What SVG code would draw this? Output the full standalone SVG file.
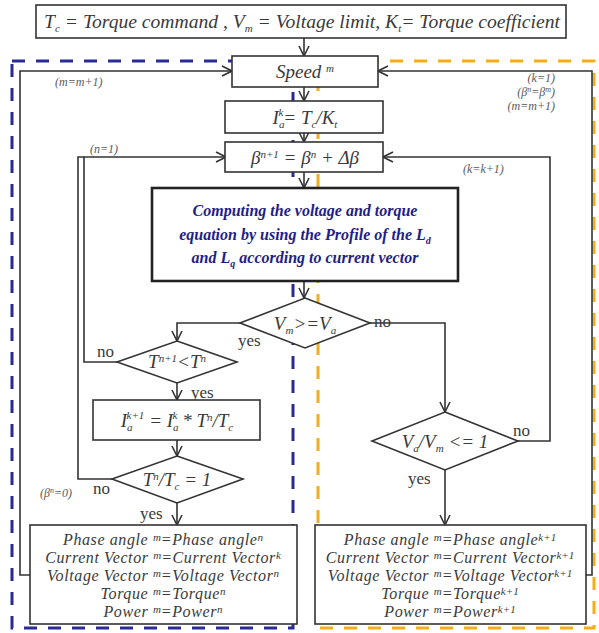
<svg xmlns="http://www.w3.org/2000/svg" width="599" height="633" viewBox="0 0 599 633">
<style>
.bx{fill:#fff;stroke:#333;stroke-width:1.6}
.bxb{fill:#fff;stroke:#222;stroke-width:2.6}
.ln{fill:none;stroke:#333;stroke-width:1.6}
.t{font-family:"Liberation Serif","Times New Roman","DejaVu Serif",serif;font-style:italic;fill:#3a3a3a;text-anchor:middle}
.r{font-size:16px;letter-spacing:0.6px}
.n{font-family:"Liberation Serif","Times New Roman","DejaVu Serif",serif;fill:#3a3a3a;font-size:17px}
.lb{font-family:"Liberation Serif","Times New Roman","DejaVu Serif",serif;font-style:italic;fill:#5a5a5a;font-size:12px}
.bl{font-family:"Liberation Serif","Times New Roman","DejaVu Serif",serif;font-style:italic;font-weight:bold;fill:#1e1e86;font-size:16px;text-anchor:middle}
.s{font-size:11px;letter-spacing:0}
</style>
<defs>
<marker id="ah" viewBox="0 0 12 12" refX="11" refY="6" markerWidth="12" markerHeight="12" markerUnits="userSpaceOnUse" orient="auto">
<path d="M1,1 L11,6 L1,11" fill="none" stroke="#333" stroke-width="1.6"/>
</marker>
</defs>
<g id="regions">
<rect x="12" y="61" width="281" height="567" fill="none" stroke="#2a2a96" stroke-width="3" stroke-dasharray="13,11"/>
<rect x="318" y="61" width="276" height="567" fill="none" stroke="#f4ae1a" stroke-width="3" stroke-dasharray="13,11"/>
</g>
<g id="connectors">
<line class="ln" x1="304" y1="38" x2="304" y2="56" marker-end="url(#ah)"/>
<line class="ln" x1="304" y1="87" x2="304" y2="101" marker-end="url(#ah)"/>
<line class="ln" x1="304" y1="133" x2="304" y2="142" marker-end="url(#ah)"/>
<line class="ln" x1="304" y1="172" x2="304" y2="188" marker-end="url(#ah)"/>
<line class="ln" x1="304" y1="281" x2="304" y2="298" marker-end="url(#ah)"/>
<polyline class="ln" points="240,323 177,323 177,341" marker-end="url(#ah)"/>
<polyline class="ln" points="117,362 84,362 84,157 226,157" marker-end="url(#ah)"/>
<line class="ln" x1="177" y1="383" x2="177" y2="400" marker-end="url(#ah)"/>
<line class="ln" x1="177" y1="440" x2="177" y2="456" marker-end="url(#ah)"/>
<polyline class="ln" points="112,479 78,479 78,157 84,157"/>
<line class="ln" x1="177" y1="503" x2="177" y2="525" marker-end="url(#ah)"/>
<polyline class="ln" points="370,323 445,323 445,412" marker-end="url(#ah)"/>
<polyline class="ln" points="518,441 550,441 550,157 383,157" marker-end="url(#ah)"/>
<line class="ln" x1="445" y1="470" x2="445" y2="525" marker-end="url(#ah)"/>
<polyline class="ln" points="30,575 20,575 20,71 232,71" marker-end="url(#ah)"/>
<polyline class="ln" points="586,575 592,575 592,71 378,71" marker-end="url(#ah)"/>
<text class="lb" x="55" y="86">(m=m+1)</text>
<text class="lb" x="90" y="153">(n=1)</text>
<text class="lb" x="40" y="497">(β<tspan dy="-4" font-size="8">n</tspan><tspan dy="4">=0)</tspan></text>
<text class="lb" x="555" y="82" text-anchor="end">(k=1)</text>
<text class="lb" x="555" y="96" text-anchor="end">(β<tspan dy="-4" font-size="8">n</tspan><tspan dy="4">=β</tspan><tspan dy="-4" font-size="8">m</tspan><tspan dy="4">)</tspan></text>
<text class="lb" x="555" y="110" text-anchor="end">(m=m+1)</text>
<text class="lb" x="463" y="173">(k=k+1)</text>
<text class="n" x="238" y="346">yes</text>
<text class="n" x="374" y="327">no</text>
<text class="n" x="97" y="357">no</text>
<text class="n" x="191" y="398">yes</text>
<text class="n" x="93" y="494">no</text>
<text class="n" x="140" y="519">yes</text>
<text class="n" x="513" y="436">no</text>
<text class="n" x="408" y="484">yes</text>
</g>
<g id="inputs">
<rect class="bx" x="36" y="5" width="530" height="33"/>
<text class="t" x="302" y="28" font-size="19.6">T<tspan class="s" dy="4">c</tspan><tspan dy="-4"> = Torque command , V</tspan><tspan class="s" dy="4">m</tspan><tspan dy="-4"> = Voltage limit, K</tspan><tspan class="s" dy="4">t</tspan><tspan dy="-4">= Torque coefficient</tspan></text>
</g>
<g id="speed">
<rect class="bx" x="232" y="56" width="146" height="31"/>
<text class="t" x="305" y="78" font-size="19">Speed <tspan class="s" dy="-6">m</tspan></text>
</g>
<g id="ia">
<rect class="bx" x="225" y="101" width="158" height="32"/>
<text class="t" x="305" y="124" font-size="19">I<tspan class="s" dy="4">a</tspan><tspan class="s" dx="-6" dy="-12">k</tspan><tspan dy="8">= T</tspan><tspan class="s" dy="4">c</tspan><tspan dy="-4">/K</tspan><tspan class="s" dy="4">t</tspan></text>
</g>
<g id="beta">
<rect class="bx" x="225" y="142" width="158" height="30"/>
<text class="t" x="305" y="164" font-size="19">β<tspan class="s" dy="-6">n+1</tspan><tspan dy="6"> = β</tspan><tspan class="s" dy="-6">n</tspan><tspan dy="6"> + Δβ</tspan></text>
</g>
<g id="compute">
<rect class="bxb" x="152" y="188" width="306" height="93"/>
<text class="bl" x="305" y="216">Computing the voltage and torque</text>
<text class="bl" x="305" y="240">equation by using the Profile of the L<tspan font-size="10" dy="4">d</tspan></text>
<text class="bl" x="305" y="263">and L<tspan font-size="10" dy="4">q</tspan><tspan dy="-4"> according to current vector</tspan></text>
</g>
<g id="vcheck">
<polygon class="bx" points="305,298 370,323 305,348 240,323"/>
<text class="t" x="305" y="330" font-size="19">V<tspan class="s" dy="4">m</tspan><tspan dy="-4">&gt;=V</tspan><tspan class="s" dy="4">a</tspan></text>
</g>
<g id="tcheck">
<polygon class="bx" points="177,341 237,362 177,383 117,362"/>
<text class="t" x="177" y="368" font-size="19">T<tspan class="s" dy="-6">n+1</tspan><tspan dy="6">&lt;T</tspan><tspan class="s" dy="-6">n</tspan></text>
</g>
<g id="iupdate">
<rect class="bx" x="93" y="400" width="167" height="40"/>
<text class="t" x="177" y="427" font-size="19">I<tspan class="s" dy="4">a</tspan><tspan class="s" dx="-6" dy="-12">k+1</tspan><tspan dy="8"> = I</tspan><tspan class="s" dy="4">a</tspan><tspan class="s" dx="-6" dy="-12">k</tspan><tspan dy="8"> * T</tspan><tspan class="s" dy="-6">n</tspan><tspan dy="6">/T</tspan><tspan class="s" dy="4">c</tspan></text>
</g>
<g id="tratio">
<polygon class="bx" points="177,456 243,479 177,503 112,479"/>
<text class="t" x="177" y="486" font-size="19">T<tspan class="s" dy="-6">n</tspan><tspan dy="6">/T</tspan><tspan class="s" dy="4">c</tspan><tspan dy="-4"> = 1</tspan></text>
</g>
<g id="vratio">
<polygon class="bx" points="445,412 518,441 445,470 372,441"/>
<text class="t" x="445" y="448" font-size="19">V<tspan class="s" dy="4">a</tspan><tspan dy="-4">/V</tspan><tspan class="s" dy="4">m</tspan><tspan dy="-4"> &lt;= 1</tspan></text>
</g>
<g id="result-left">
<rect class="bx" x="30" y="525" width="267" height="99"/>
<text class="t r" x="163" y="545">Phase angle <tspan class="s" dy="-4">m</tspan><tspan dy="4">=Phase angle</tspan><tspan class="s" dy="-4">n</tspan></text>
<text class="t r" x="163" y="563">Current Vector <tspan class="s" dy="-4">m</tspan><tspan dy="4">=Current Vector</tspan><tspan class="s" dy="-4">k</tspan></text>
<text class="t r" x="163" y="581">Voltage Vector <tspan class="s" dy="-4">m</tspan><tspan dy="4">=Voltage Vector</tspan><tspan class="s" dy="-4">n</tspan></text>
<text class="t r" x="163" y="599">Torque <tspan class="s" dy="-4">m</tspan><tspan dy="4">=Torque</tspan><tspan class="s" dy="-4">n</tspan></text>
<text class="t r" x="163" y="617">Power <tspan class="s" dy="-4">m</tspan><tspan dy="4">=Power</tspan><tspan class="s" dy="-4">n</tspan></text>
</g>
<g id="result-right">
<rect class="bx" x="315" y="525" width="271" height="99"/>
<text class="t r" x="450" y="545">Phase angle <tspan class="s" dy="-4">m</tspan><tspan dy="4">=Phase angle</tspan><tspan class="s" dy="-4">k+1</tspan></text>
<text class="t r" x="450" y="563">Current Vector <tspan class="s" dy="-4">m</tspan><tspan dy="4">=Current Vector</tspan><tspan class="s" dy="-4">k+1</tspan></text>
<text class="t r" x="450" y="581">Voltage Vector <tspan class="s" dy="-4">m</tspan><tspan dy="4">=Voltage Vector</tspan><tspan class="s" dy="-4">k+1</tspan></text>
<text class="t r" x="450" y="599">Torque <tspan class="s" dy="-4">m</tspan><tspan dy="4">=Torque</tspan><tspan class="s" dy="-4">k+1</tspan></text>
<text class="t r" x="450" y="617">Power <tspan class="s" dy="-4">m</tspan><tspan dy="4">=Power</tspan><tspan class="s" dy="-4">k+1</tspan></text>
</g>
</svg>
